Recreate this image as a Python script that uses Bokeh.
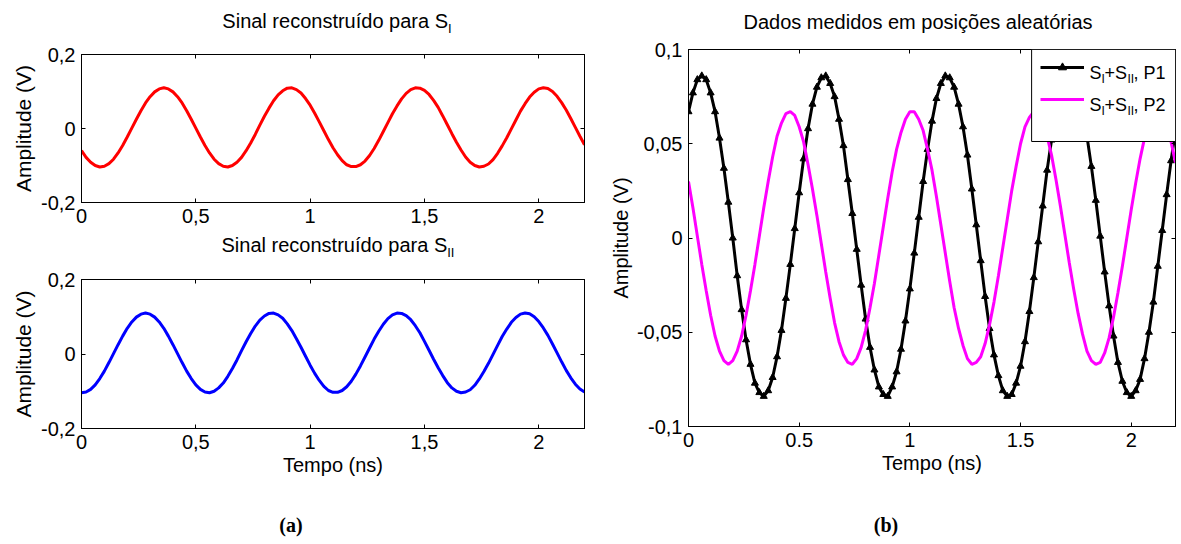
from bokeh.plotting import figure
from bokeh.models import (Range1d, FixedTicker, CustomJSTickFormatter, LinearAxis,
                          Label, Legend, LegendItem, BoxAnnotation, Div)
from bokeh.layouts import row, column
from bokeh.embed import file_html
from bokeh.resources import INLINE

# ---------------- data ----------------
t_ns = [round(0.02 * i, 2) for i in range(111)]

s1_rec = [-0.060, -0.078, -0.091, -0.100, -0.104, -0.102, -0.095, -0.083, -0.066, -0.046,
          -0.023, 0.001, 0.025, 0.048, 0.069, 0.086, 0.099, 0.107, 0.110,
          0.107, 0.099, 0.086, 0.069, 0.048, 0.025, 0.001, -0.023, -0.046, -0.066,
          -0.083, -0.095, -0.102, -0.104, -0.100, -0.091, -0.078, -0.060, -0.039, -0.016,
          0.009, 0.033, 0.055, 0.075, 0.091, 0.102, 0.109, 0.110, 0.105, 0.096,
          0.081, 0.063, 0.041, 0.018, -0.006, -0.030, -0.052, -0.071, -0.087, -0.098,
          -0.103, -0.103, -0.098, -0.088, -0.073, -0.054, -0.032, -0.008, 0.016, 0.040,
          0.061, 0.080, 0.095, 0.105, 0.110, 0.109, 0.103, 0.092, 0.076, 0.057,
          0.034, 0.010, -0.014, -0.037, -0.058, -0.077, -0.091, -0.100, -0.104, -0.102,
          -0.096, -0.084, -0.067, -0.047, -0.025, -0.001, 0.023, 0.047, 0.067, 0.085,
          0.098, 0.107, 0.110, 0.108, 0.100, 0.087, 0.070, 0.050, 0.027, 0.003,
          -0.021, -0.044]

s2_rec = [-0.104, -0.102, -0.095, -0.083, -0.066, -0.046, -0.023, 0.001, 0.025, 0.048,
          0.069, 0.086, 0.099, 0.107, 0.110,
          0.107, 0.099, 0.086, 0.069, 0.048, 0.025, 0.001, -0.023, -0.046, -0.066,
          -0.083, -0.095, -0.102, -0.104, -0.100, -0.091, -0.078, -0.060, -0.039, -0.016,
          0.009, 0.033, 0.055, 0.075, 0.091, 0.102, 0.109, 0.110, 0.105, 0.096,
          0.081, 0.063, 0.041, 0.018, -0.006, -0.030, -0.052, -0.071, -0.087, -0.098,
          -0.103, -0.103, -0.098, -0.088, -0.073, -0.054, -0.032, -0.008, 0.016, 0.040,
          0.061, 0.080, 0.095, 0.105, 0.110, 0.109, 0.103, 0.092, 0.076, 0.057,
          0.034, 0.010, -0.014, -0.037, -0.058, -0.077, -0.091, -0.100, -0.104, -0.102,
          -0.096, -0.084, -0.067, -0.047, -0.025, -0.001, 0.023, 0.047, 0.067, 0.085,
          0.098, 0.107, 0.110, 0.108, 0.100, 0.087, 0.070, 0.050, 0.027, 0.003,
          -0.021, -0.044, -0.064, -0.081, -0.094, -0.102]

p1_meas = [0.067, 0.077, 0.084,
           0.086, 0.084, 0.077, 0.067, 0.053, 0.037, 0.019, 0.000, -0.020, -0.038,
           -0.054, -0.067, -0.077, -0.082, -0.084, -0.081, -0.074, -0.063, -0.049, -0.032,
           -0.014, 0.005, 0.024, 0.042, 0.058, 0.071, 0.080, 0.085, 0.086, 0.082,
           0.075, 0.063, 0.049, 0.031, 0.013, -0.006, -0.025, -0.043, -0.058, -0.070,
           -0.079, -0.083, -0.084, -0.079, -0.071, -0.059, -0.044, -0.027, -0.008, 0.011,
           0.030, 0.047, 0.062, 0.074, 0.082, 0.086, 0.085, 0.080, 0.071, 0.059,
           0.044, 0.026, 0.007, -0.012, -0.031, -0.048, -0.062, -0.073, -0.081, -0.084,
           -0.083, -0.077, -0.068, -0.055, -0.039, -0.021, -0.002, 0.017, 0.036, 0.052,
           0.066, 0.077, 0.083, 0.086, 0.084, 0.078, 0.068, 0.054, 0.038, 0.020,
           0.001, -0.018, -0.036, -0.052, -0.066, -0.076, -0.082, -0.084, -0.081, -0.075,
           -0.064, -0.050, -0.034, -0.015, 0.004, 0.023, 0.041, 0.057]

p2_meas = [0.030, 0.016, 0.001, -0.014, -0.028, -0.041, -0.052, -0.060, -0.065, -0.067,
           -0.065, -0.060, -0.052, -0.041, -0.028, -0.014, 0.001, 0.016, 0.030, 0.043,
           0.054, 0.061, 0.066, 0.067, 0.065, 0.059, 0.051, 0.039, 0.026, 0.012,
           -0.003, -0.018, -0.032, -0.045, -0.055, -0.062, -0.066, -0.067, -0.064, -0.058,
           -0.049, -0.037, -0.024, -0.009, 0.006, 0.021, 0.035, 0.047, 0.056, 0.063,
           0.067, 0.067, 0.063, 0.057, 0.047, 0.036, 0.022, 0.007, -0.008, -0.023,
           -0.037, -0.048, -0.057, -0.064, -0.067, -0.066, -0.063, -0.056, -0.046, -0.034,
           -0.020, -0.005, 0.010, 0.025, 0.038, 0.050, 0.059, 0.064, 0.067, 0.066,
           0.062, 0.054, 0.044, 0.031, 0.017, 0.002, -0.013, -0.027, -0.040, -0.051,
           -0.060, -0.065, -0.067, -0.066, -0.061, -0.053, -0.042, -0.029, -0.015, 0.000,
           0.015, 0.029, 0.042, 0.053, 0.061, 0.066, 0.067, 0.065, 0.060, 0.051,
           0.040]

x_ticks = [0, 0.5, 1, 1.5, 2]
y_ticks_left = [-0.2, 0, 0.2]
y_ticks_right = [-0.1, -0.05, 0, 0.05, 0.1]

FONT = "Liberation Sans"
COMMA = "return tick.toString().replace('.', ',');"
DOT = "return tick.toString();"


def make_fig(w, h, ml, mr, mt, mb, yr, yticks, xcode, ycode, ylabel_standoff,
             ylabel_size="20px", xlabel=None):
    p = figure(width=w, height=h, x_range=Range1d(0, 2.2), y_range=Range1d(*yr),
               output_backend="svg", toolbar_location=None,
               min_border_left=ml, min_border_right=mr, min_border_top=mt, min_border_bottom=mb)
    p.xgrid.visible = False
    p.ygrid.visible = False
    p.outline_line_color = "black"
    p.background_fill_color = "white"
    p.border_fill_color = "white"
    p.xaxis.ticker = FixedTicker(ticks=x_ticks)
    p.yaxis.ticker = FixedTicker(ticks=yticks)
    p.xaxis.formatter = CustomJSTickFormatter(code=xcode)
    p.yaxis.formatter = CustomJSTickFormatter(code=ycode)
    for ax in (p.xaxis, p.yaxis):
        ax.major_tick_in = 4
        ax.major_tick_out = 0
        ax.minor_tick_in = 0
        ax.minor_tick_out = 0
        ax.axis_line_color = "black"
        ax.major_tick_line_color = "black"
        ax.major_label_text_font = FONT
        ax.major_label_text_font_size = "20px"
        ax.major_label_text_color = "black"
        ax.major_label_standoff = 6
        ax.axis_label_text_font = FONT
        ax.axis_label_text_font_size = "20px"
        ax.axis_label_text_font_style = "normal"
        ax.axis_label_text_color = "black"
    p.yaxis.axis_label = "Amplitude (V)"
    p.yaxis.axis_label_standoff = ylabel_standoff
    p.yaxis.axis_label_text_font_size = ylabel_size
    if xlabel:
        p.xaxis.axis_label = xlabel
        p.xaxis.axis_label_standoff = 2
    for side, tk in (("above", x_ticks), ("right", yticks)):
        ax = LinearAxis(ticker=FixedTicker(ticks=tk),
                        formatter=CustomJSTickFormatter(code="return '';"),
                        major_tick_in=4, major_tick_out=0, minor_tick_in=0, minor_tick_out=0,
                        major_label_standoff=0, axis_line_color="black")
        p.add_layout(ax, side)
    return p


def html_text(width, height, center, inner, size="20px", font=FONT, weight="normal", pad_top=0):
    if 2 * center >= width:
        pad = "padding-left:%dpx;" % (2 * center - width)
    else:
        pad = "padding-right:%dpx;" % (width - 2 * center)
    style = ("width:%dpx;height:%dpx;box-sizing:border-box;%stext-align:center;"
             "font-family:'%s';font-size:%s;font-weight:%s;color:black;white-space:nowrap;"
             "line-height:%dpx;padding-top:%dpx;overflow:visible;"
             % (width, height, pad, font, size, weight, height - pad_top, pad_top))
    return Div(text='<div style="%s">%s</div>' % (style, inner),
               width=width, height=height, margin=0)


SUB = '<sub style="font-size:13px;line-height:0;vertical-align:-5px">%s</sub>'

# ---------------- (a) top: S_I ----------------
t1 = html_text(600, 36, 337, "Sinal reconstruído para S" + SUB % "I", pad_top=6)
p1 = make_fig(600, 196, 81, 16, 18, 30, (-0.2, 0.2), y_ticks_left, COMMA, COMMA, 3,
              ylabel_size="21px")
p1.line(t_ns, s1_rec, line_color="#FF0000", line_width=3)

# ---------------- (a) bottom: S_II ----------------
t2 = html_text(600, 26, 338, "Sinal reconstruído para S" + SUB % "II")
p2 = make_fig(600, 232, 81, 16, 21, 62, (-0.2, 0.2), y_ticks_left, COMMA, COMMA, 3,
              ylabel_size="21px", xlabel="Tempo (ns)")
p2.line(t_ns, s2_rec, line_color="#0000FF", line_width=3)
cap_a = html_text(600, 54, 291, "(a)", font="Liberation Serif", weight="bold", pad_top=16)

# ---------------- (b) measured data ----------------
t3 = html_text(581, 34, 318, "Dados medidos em posições aleatórias", pad_top=10)
p3 = make_fig(581, 456, 88, 6, 15, 64, (-0.1, 0.1), y_ticks_right, DOT, COMMA, 2,
              xlabel="Tempo (ns)")
lb = p3.line(t_ns, p1_meas, line_color="black", line_width=3)
sb = p3.scatter(t_ns, p1_meas, marker="triangle", size=7, fill_color="black", line_color="black")
lm = p3.line(t_ns, p2_meas, line_color="#FF00FF", line_width=3)
cap_b = html_text(581, 54, 286, "(b)", font="Liberation Serif", weight="bold", pad_top=16)

L3, B3 = 688, 426
box = BoxAnnotation(left=1.55, bottom=0.0512, fill_color="white", fill_alpha=1.0,
                    line_color="black", line_width=1, line_alpha=1.0)
p3.add_layout(box)
legend = Legend(items=[LegendItem(label=" ", renderers=[lb, sb]),
                       LegendItem(label=" ", renderers=[lm])],
                location=(1040 - L3, B3 - 109), orientation="vertical",
                glyph_width=44, glyph_height=20, label_height=20, label_width=1,
                label_standoff=0, spacing=12, padding=0, margin=0,
                background_fill_alpha=0, border_line_alpha=0,
                label_text_font_size="1px")
p3.add_layout(legend)


def txt(p, L, B, X, Y, text, size):
    p.add_layout(Label(x=X - L, y=B - Y, x_units="screen", y_units="screen", text=text,
                       text_font=FONT, text_font_size=size, text_align="left",
                       text_baseline="alphabetic", text_color="black"))


for yb, tag in ((72, "P1"), (104, "P2")):
    txt(p3, L3, B3, 1089, yb, "S", "18px")
    txt(p3, L3, B3, 1101, yb + 6, "I", "12px")
    txt(p3, L3, B3, 1104, yb, "+S", "18px")
    txt(p3, L3, B3, 1127, yb + 6, "II", "12px")
    txt(p3, L3, B3, 1133, yb, ", " + tag, "18px")

layout = row(column(t1, p1, t2, p2, cap_a), column(t3, p3, cap_b))
open("out.html", "w").write(file_html(layout, INLINE))
